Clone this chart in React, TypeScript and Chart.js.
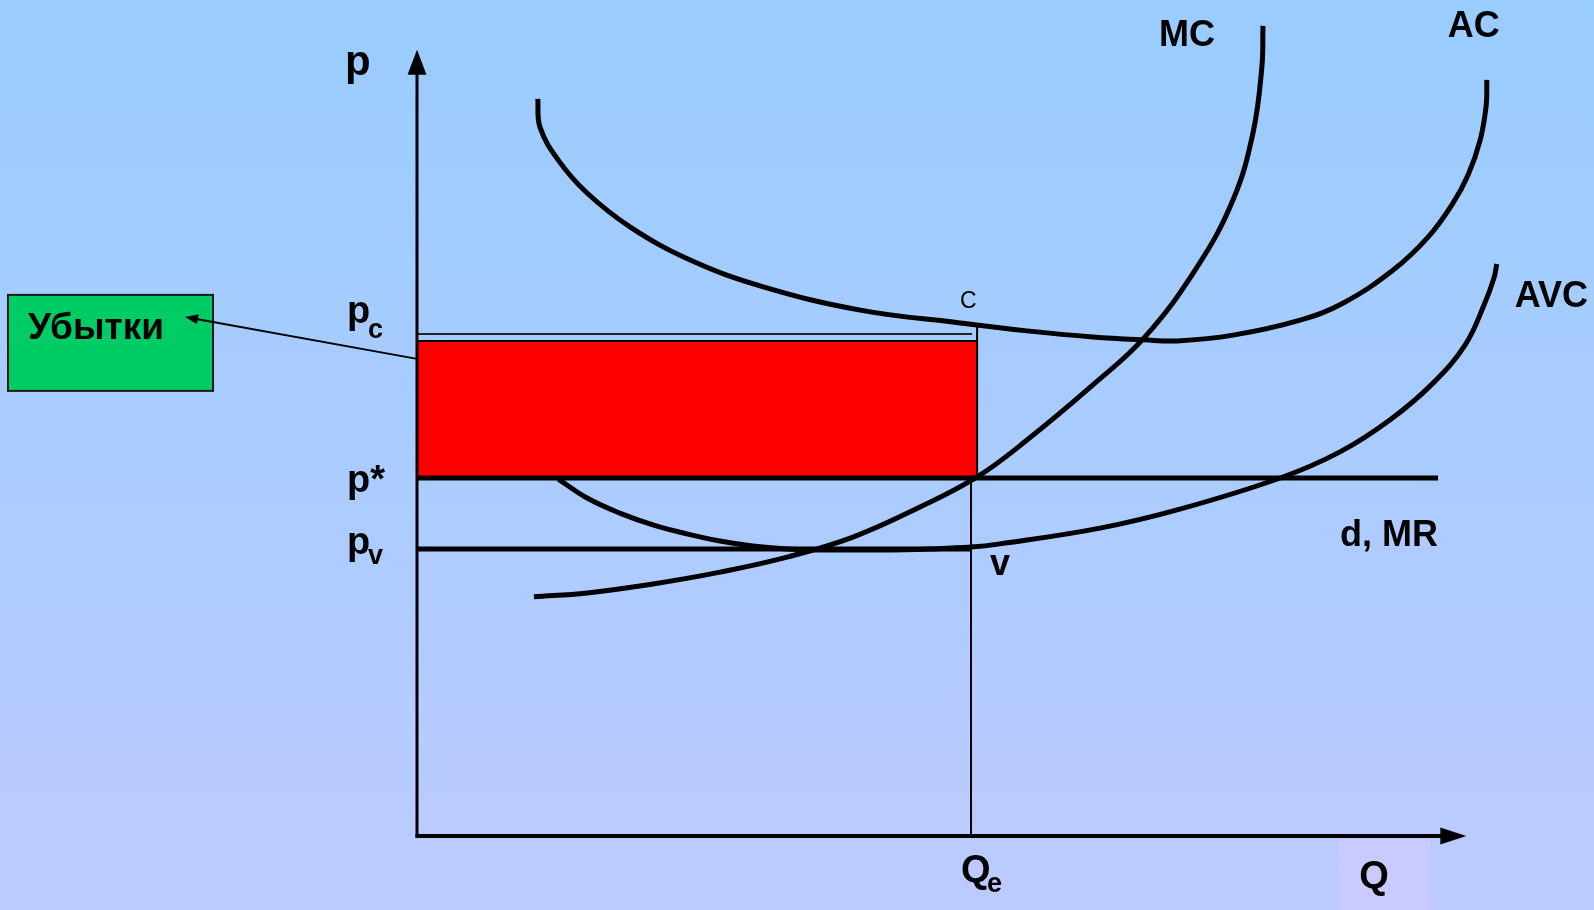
import React, { useEffect, useRef } from "react";
import { Chart, registerables } from "chart.js";

Chart.register(...registerables);

// ---- Data (units: Q so that Qe = 100, p so that p* = 100) ----
const QE = 100;
const Q_RECT = 101.1;
const P_STAR = 100;
const P_C = 138.3;
const P_C_LINE = 140.2;
const P_V = 80.2;
const AC_AT_RECT = 142.7;
const D_LINE_END = 184.3;
const X_AXIS_END = 189.4;
const Y_AXIS_END = 219.6;

const AC_Q = [21.8, 22.2, 25.5, 30.7, 38.5, 49.3, 62.5, 80.0, 98.0, 110.1, 122.0, 131.1, 137.2, 147.3, 159.4, 167.2, 176.2, 182.5, 186.8, 189.7, 191.9, 193.0, 193.1];
const AC_P = [205.9, 198.0, 188.8, 179.6, 170.1, 160.9, 153.4, 146.9, 143.3, 141.1, 139.4, 138.6, 138.3, 139.9, 144.1, 148.9, 158.1, 167.3, 176.3, 184.6, 194.4, 204.2, 211.2];

const MC_Q = [21.1, 30.7, 42.6, 54.7, 66.8, 78.7, 90.8, 101.1, 110.1, 122.0, 131.4, 140.8, 147.3, 150.9, 152.5, 152.7];
const MC_P = [66.8, 67.9, 70.4, 73.7, 77.9, 83.5, 91.9, 100.3, 110.6, 126.0, 139.4, 158.9, 177.7, 196.4, 214.8, 226.3];

const AVC_Q = [25.5, 30.7, 36.6, 42.6, 48.7, 54.7, 60.6, 66.8, 72.7, 83.6, 92.6, 100.0, 105.2, 123.3, 137.7, 155.8, 166.6, 175.6, 183.4, 189.2, 192.6, 194.4, 194.9];
const AVC_P = [99.7, 94.4, 90.2, 86.9, 84.4, 82.4, 81.0, 80.2, 79.9, 79.9, 80.2, 80.7, 81.6, 86.0, 91.3, 100.0, 107.3, 116.2, 126.5, 137.2, 148.3, 155.9, 159.8];

const CURVE_LABELS = ["MC", "AC", "AVC"];
const LOSS_LABEL = "Убытки";

// ---- Scale ranges ----
const X_MIN = -75.27;
const X_MAX = 212.45;
const Y_MIN = -20.67;
const Y_MAX = 233.52;

const zip = (qs: number[], ps: number[]) => qs.map((q, i) => ({ x: q, y: ps[i] }));

const FONT = '"Liberation Sans", Arial, Helvetica, sans-serif';

const overlayPlugin = {
  id: "overlay",
  beforeDraw(chart: any) {
    const { ctx, width, height } = chart;
    const xs = chart.scales.x;
    const ys = chart.scales.y;
    ctx.save();
    const g = ctx.createLinearGradient(0, 0, 0, height);
    g.addColorStop(0, "#99CCFF");
    g.addColorStop(0.5, "#AACCFF");
    g.addColorStop(1, "#BDCAFF");
    ctx.fillStyle = g;
    ctx.fillRect(0, 0, width, height);
    // lavender box behind Q
    const tipX = xs.getPixelForValue(X_AXIS_END);
    const y0 = ys.getPixelForValue(0);
    ctx.fillStyle = "#C9CBFF";
    ctx.fillRect(tipX - 127, y0 + 3, 91, height - y0);
    ctx.restore();
  },
  afterDatasetsDraw(chart: any) {
    const { ctx } = chart;
    const xs = chart.scales.x;
    const ys = chart.scales.y;
    const X = (v: number) => xs.getPixelForValue(v);
    const Y = (v: number) => ys.getPixelForValue(v);
    ctx.save();
    ctx.fillStyle = "#000";
    ctx.strokeStyle = "#000";

    const x0 = X(0);
    const y0 = Y(0);
    // y axis
    const yTip = Y(Y_AXIS_END);
    ctx.lineWidth = 3;
    ctx.beginPath();
    ctx.moveTo(x0, y0 + 1.5);
    ctx.lineTo(x0, yTip + 24);
    ctx.stroke();
    ctx.beginPath();
    ctx.moveTo(x0, yTip);
    ctx.lineTo(x0 - 9.5, yTip + 25);
    ctx.lineTo(x0 + 9.5, yTip + 25);
    ctx.closePath();
    ctx.fill();
    // x axis
    const xTip = X(X_AXIS_END);
    ctx.lineWidth = 4;
    ctx.beginPath();
    ctx.moveTo(x0 - 1.5, y0);
    ctx.lineTo(xTip - 25, y0);
    ctx.stroke();
    ctx.beginPath();
    ctx.moveTo(xTip, y0);
    ctx.lineTo(xTip - 26, y0 - 8.5);
    ctx.lineTo(xTip - 26, y0 + 8.5);
    ctx.closePath();
    ctx.fill();

    // Loss box
    const yc = Y(P_C);
    const bx = x0 - 409;
    const by = yc - 46;
    ctx.fillStyle = "#00CC66";
    ctx.fillRect(bx, by, 205, 96);
    ctx.lineWidth = 2;
    ctx.strokeStyle = "#1A1A1A";
    ctx.strokeRect(bx, by, 205, 96);
    ctx.fillStyle = "#000";
    ctx.font = `bold 37px ${FONT}`;
    ctx.textBaseline = "alphabetic";
    ctx.fillText(LOSS_LABEL, bx + 20, yc - 2);

    // arrow from loss area to box
    const ax1 = x0, ay1 = yc + 18;
    const ax2 = x0 - 232, ay2 = yc - 24;
    ctx.strokeStyle = "#000";
    ctx.lineWidth = 2;
    ctx.beginPath();
    ctx.moveTo(ax1, ay1);
    ctx.lineTo(ax2 + 10, ay2 + 1.8);
    ctx.stroke();
    const ang = Math.atan2(ay2 - ay1, ax2 - ax1);
    ctx.beginPath();
    ctx.moveTo(ax2, ay2);
    ctx.lineTo(ax2 - 13 * Math.cos(ang) + 5 * Math.sin(ang), ay2 - 13 * Math.sin(ang) - 5 * Math.cos(ang));
    ctx.lineTo(ax2 - 13 * Math.cos(ang) - 5 * Math.sin(ang), ay2 - 13 * Math.sin(ang) + 5 * Math.cos(ang));
    ctx.closePath();
    ctx.fill();

    // text labels
    const bold = (s: number) => `bold ${s}px ${FONT}`;
    ctx.fillStyle = "#000";
    // p axis label
    ctx.font = bold(42);
    ctx.fillText("p", x0 - 72, yTip + 25);
    // p_c
    ctx.font = bold(38);
    ctx.fillText("p", x0 - 70, yc - 18);
    ctx.font = bold(27);
    ctx.fillText("c", x0 - 49, yc - 3);
    // p*
    const ys_ = Y(P_STAR);
    ctx.font = bold(38);
    ctx.fillText("p*", x0 - 70, ys_ + 14);
    // p_v
    const yv = Y(P_V);
    ctx.fillText("p", x0 - 70, yv + 5);
    ctx.font = bold(27);
    ctx.fillText("v", x0 - 49, yv + 15);
    // Q_e
    const xq = X(QE);
    ctx.font = bold(38);
    ctx.fillText("Q", xq - 10, y0 + 46);
    ctx.font = bold(27);
    ctx.fillText("e", xq + 16, y0 + 56);
    // Q
    ctx.font = bold(38);
    ctx.fillText("Q", xTip - 107, y0 + 52);
    // curve labels
    ctx.font = bold(36);
    const mcEnd = { x: X(MC_Q[MC_Q.length - 1]), y: Y(MC_P[MC_P.length - 1]) };
    ctx.fillText(CURVE_LABELS[0], mcEnd.x - 104, mcEnd.y + 20);
    const acEnd = { x: X(AC_Q[AC_Q.length - 1]), y: Y(AC_P[AC_P.length - 1]) };
    ctx.fillText(CURVE_LABELS[1], acEnd.x - 39, acEnd.y - 43);
    const avcEnd = { x: X(AVC_Q[AVC_Q.length - 1]), y: Y(AVC_P[AVC_P.length - 1]) };
    ctx.fillText(CURVE_LABELS[2], avcEnd.x + 18, avcEnd.y + 43);
    // d, MR
    ctx.fillText("d, MR", X(D_LINE_END) - 98, ys_ + 68);
    // v
    ctx.fillText("v", xq + 19, yv + 26);
    // C
    ctx.font = `23px ${FONT}`;
    ctx.fillText("C", xq - 11, yc - 33);
    ctx.restore();
  },
};

export default function App() {
  const ref = useRef<HTMLCanvasElement | null>(null);
  useEffect(() => {
    if (!ref.current) return;
    const line = (data: any[], width: number, extra: any = {}) => ({
      data,
      borderColor: "#000",
      borderWidth: width,
      pointRadius: 0,
      fill: false,
      tension: 0,
      order: 0,
      ...extra,
    });
    const curve = { tension: 0.4 };
    const chart = new Chart(ref.current, {
      type: "line",
      data: {
        datasets: [
          // loss rectangle (between p_c and p*)
          line(
            [
              { x: 0, y: P_C },
              { x: Q_RECT, y: P_C },
            ],
            2,
            { fill: { value: P_STAR }, backgroundColor: "#FF0000", order: 10 }
          ),
          // p_c thin line
          line([{ x: 0, y: P_C_LINE }, { x: QE + 0.2, y: P_C_LINE }], 2, { borderColor: "#222" }),
          // right edge of loss rectangle from AC
          line([{ x: Q_RECT, y: AC_AT_RECT }, { x: Q_RECT, y: P_STAR }], 2),
          // d, MR line
          line([{ x: 0, y: P_STAR }, { x: D_LINE_END, y: P_STAR }], 5),
          // p_v line
          line([{ x: 0, y: P_V }, { x: QE, y: P_V }], 5),
          // Qe vertical
          line([{ x: QE, y: P_STAR }, { x: QE, y: 0 }], 2),
          // curves
          line(zip(MC_Q, MC_P), 5, curve),
          line(zip(AC_Q, AC_P), 5, curve),
          line(zip(AVC_Q, AVC_P), 5, curve),
        ],
      },
      options: {
        animation: false,
        responsive: false,
        maintainAspectRatio: false,
        devicePixelRatio: 1,
        layout: { padding: 0 },
        events: [],
        plugins: {
          legend: { display: false },
          tooltip: { enabled: false },
          title: { display: false },
        },
        scales: {
          x: { type: "linear", display: false, min: X_MIN, max: X_MAX },
          y: { type: "linear", display: false, min: Y_MIN, max: Y_MAX },
        },
      },
      plugins: [overlayPlugin],
    } as any);
    return () => chart.destroy();
  }, []);
  return (
    <div style={{ position: "fixed", left: 0, top: 0, width: 1594, height: 910 }}>
      <canvas ref={ref} width={1594} height={910} style={{ display: "block" }} />
    </div>
  );
}
